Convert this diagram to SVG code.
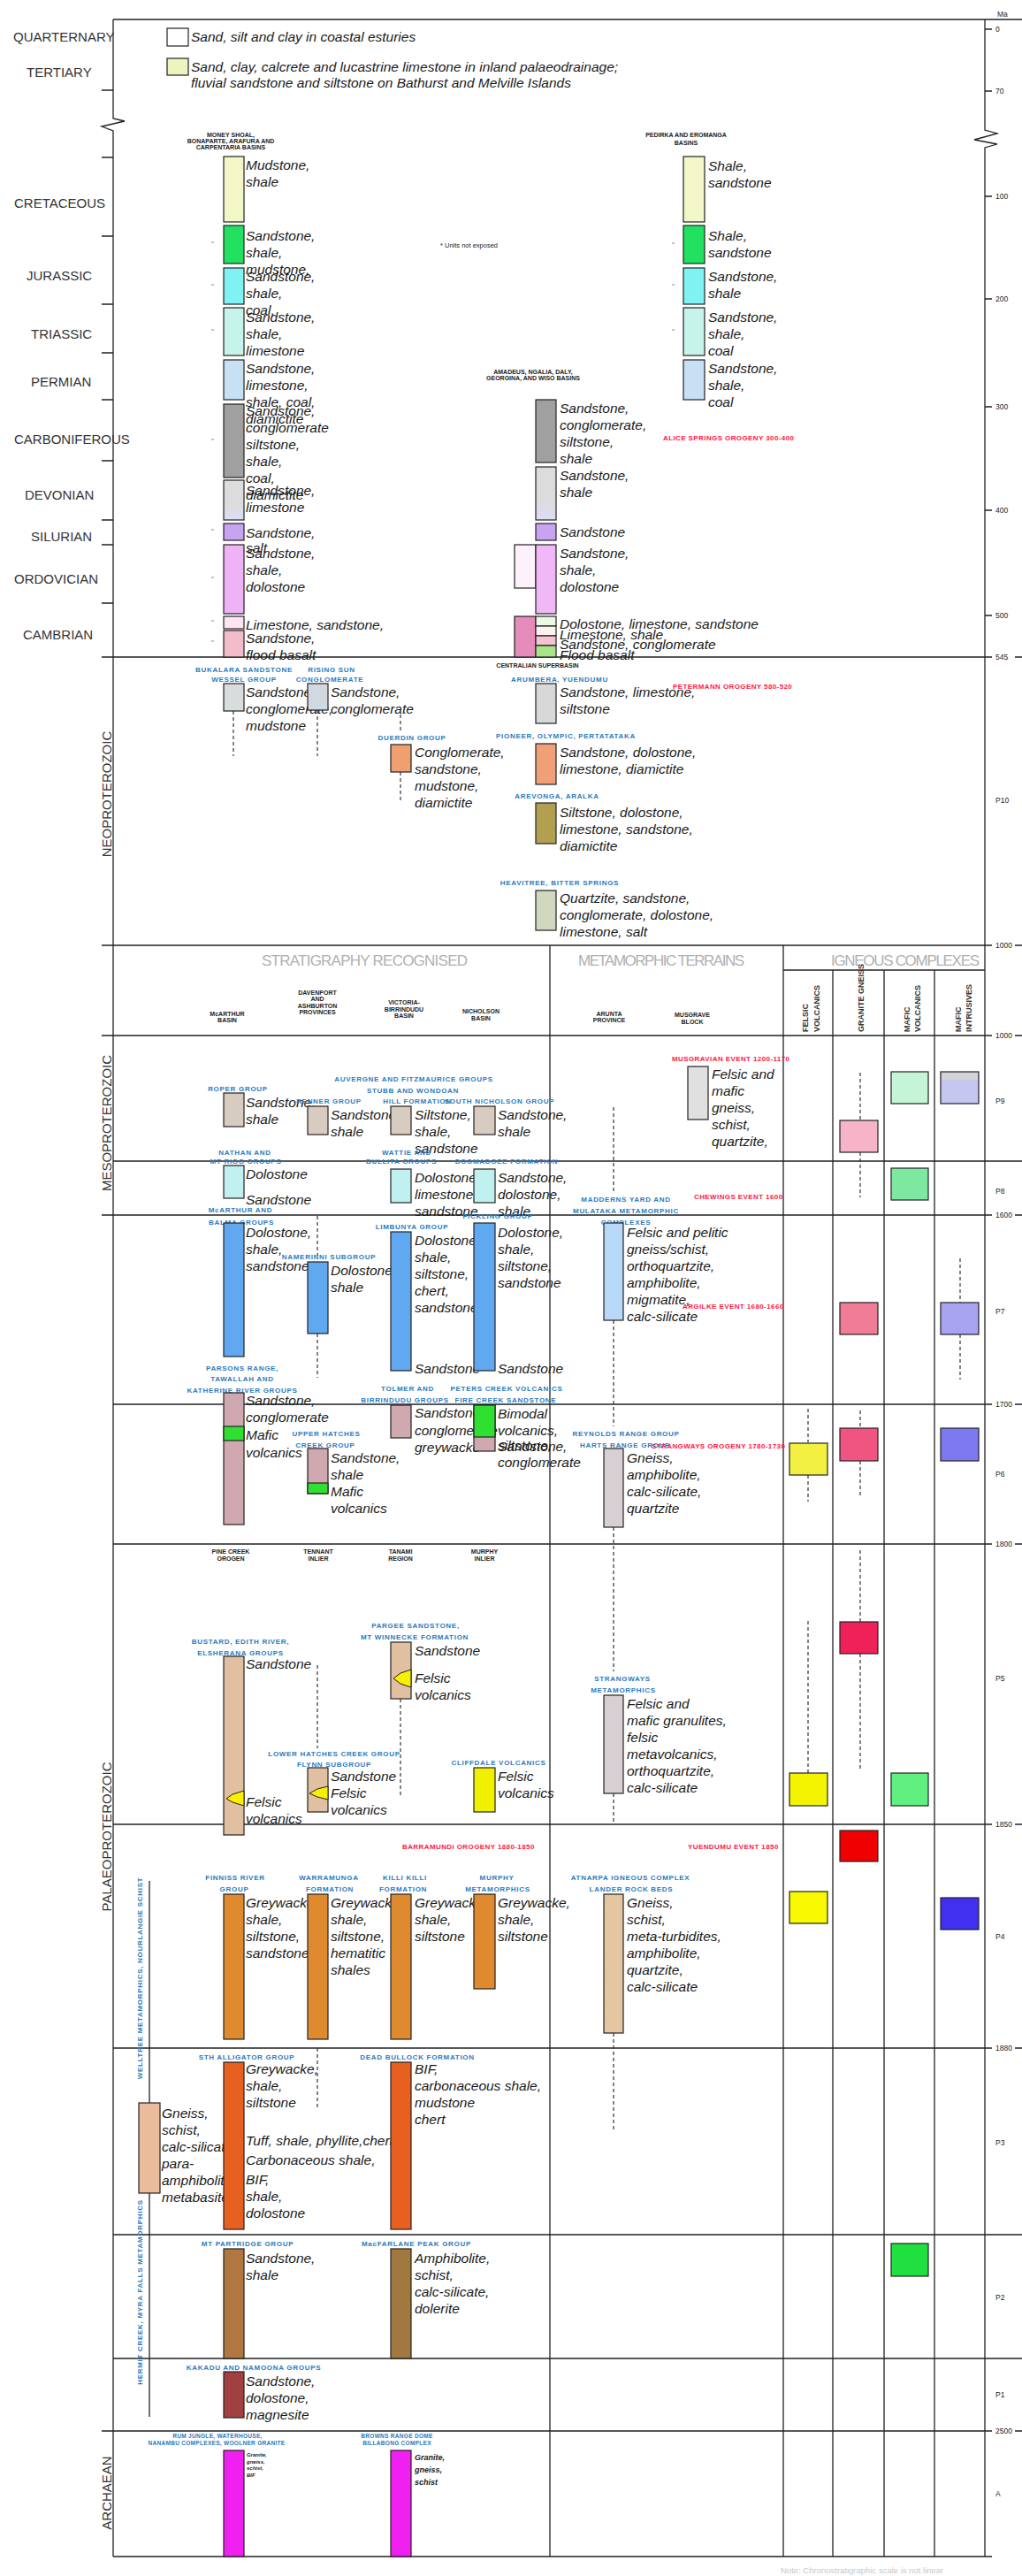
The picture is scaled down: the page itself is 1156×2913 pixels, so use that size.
<svg xmlns="http://www.w3.org/2000/svg" width="1156" height="2913" viewBox="0 0 1156 2913">
<style>
text{font-family:"Liberation Sans",Arial,sans-serif}
.per{font-size:15px;fill:#333}
.era{font-size:15px;fill:#333;text-anchor:middle}
.d{font-size:15.5px;font-style:italic;fill:#1a1a1a}
.bl{font-size:8px;font-weight:bold;fill:#2b7bbd;letter-spacing:.7px;text-anchor:middle}
.blv{font-size:8px;font-weight:bold;fill:#2b7bbd;letter-spacing:.7px;text-anchor:middle}
.rd{font-size:8px;font-weight:bold;fill:#ff1744;letter-spacing:.4px}
.hd{font-size:7px;font-weight:bold;fill:#222;text-anchor:middle}
.tk{font-size:8.5px;fill:#222}
.big{font-size:17px;fill:#b0b0b0}
.ig{font-size:9px;font-weight:bold;fill:#333}
.ln{stroke:#222;stroke-width:1.3;fill:none}
.bx{stroke:#222;stroke-width:1.2}
.ds{stroke:#333;stroke-width:1.2;stroke-dasharray:4 3;fill:none}
.wd{fill:#f8f000;stroke:#222;stroke-width:1}
.mk{stroke:#c07080;stroke-width:1}
</style>
<defs>
<pattern id="hatch" width="3" height="3" patternUnits="userSpaceOnUse">
<rect width="3" height="3" fill="#f0c2a4"/>
<path d="M0,0 L3,3" stroke="#d8a080" stroke-width="0.6"/>
</pattern>
<pattern id="hatch2" width="3" height="3" patternUnits="userSpaceOnUse">
<rect width="3" height="3" fill="#e8cca4"/>
<path d="M0,0 L3,3" stroke="#d0b090" stroke-width="0.6"/>
</pattern>
<pattern id="hatch3" width="3" height="3" patternUnits="userSpaceOnUse">
<rect width="3" height="3" fill="#dcd4d8"/>
<path d="M0,0 L3,3" stroke="#c4bcc0" stroke-width="0.6"/>
</pattern>
<linearGradient id="dev" x1="0" y1="0" x2="0" y2="1">
<stop offset="0.6" stop-color="#dcdcdc"/><stop offset="1" stop-color="#dcdcf6"/>
</linearGradient>
</defs>
<rect width="1156" height="2913" fill="#fff"/>

<g id="frame">
<path class="ln" d="M128,22 H1156"/>
<path class="ln" d="M128,22 V134 L141,137 L115,143 L128,148 V2891"/>
<path class="ln" d="M1114,22 V147 L1128,151 L1102,158 L1128,163 L1114,167 V2891"/>
<path class="ln" d="M115,743 H1122 M1148,743 H1156 M115,1069 H1122 M1148,1069 H1156 M115,1171 H1122 M1148,1171 H1156 M128,1313 H1156 M115,1374 H1122 M1148,1374 H1156 M128,1588 H1122 M1148,1588 H1156 M128,1746 H1122 M1148,1746 H1156 M128,2063 H1122 M1148,2063 H1156 M128,2316 H1122 M1148,2316 H1156 M128,2527 H1156 M128,2667 H1156 M115,2749 H1122 M1148,2749 H1156 M128,2891 H1122"/>
<path class="ln" d="M886,1097 H1114 M622,1069 V2891 M886,1069 V2891 M942,1097 V2891 M1000,1097 V2891 M1057,1097 V2891"/>
<path class="ln" d="M115,102 H128 M115,178 H128 M115,267 H128 M115,344 H128 M115,399 H128 M115,452 H128 M115,521 H128 M115,588 H128 M115,616 H128 M115,682 H128"/>
<path class="ln" d="M1114,33 H1122 M1114,103 H1122 M1114,222 H1122 M1114,338 H1122 M1114,460 H1122 M1114,577 H1122 M1114,696 H1122"/>
<path class="mk" d="M239,274 h3 M239,322 h3 M239,373 h3 M239,497 h3 M239,599 h3 M239,653 h3 M239,702 h3 M239,725 h3 M760,275 h3 M760,322 h3 M760,373 h3"/>
</g>

<g id="time-scale">
<text class="tk" x="1128" y="19">Ma</text>
<text class="tk" x="1126" y="36">0</text>
<text class="tk" x="1126" y="106">70</text>
<text class="tk" x="1126" y="225">100</text>
<text class="tk" x="1126" y="341">200</text>
<text class="tk" x="1126" y="463">300</text>
<text class="tk" x="1126" y="580">400</text>
<text class="tk" x="1126" y="699">500</text>
<text class="tk" x="1126" y="746">545</text>
<text class="tk" x="1126" y="908">P10</text>
<text class="tk" x="1126" y="1072">1000</text>
<text class="tk" x="1126" y="1174">1000</text>
<text class="tk" x="1126" y="1248">P9</text>
<text class="tk" x="1126" y="1350">P8</text>
<text class="tk" x="1126" y="1377">1600</text>
<text class="tk" x="1126" y="1486">P7</text>
<text class="tk" x="1126" y="1591">1700</text>
<text class="tk" x="1126" y="1670">P6</text>
<text class="tk" x="1126" y="1749">1800</text>
<text class="tk" x="1126" y="1901">P5</text>
<text class="tk" x="1126" y="2066">1850</text>
<text class="tk" x="1126" y="2193">P4</text>
<text class="tk" x="1126" y="2319">1880</text>
<text class="tk" x="1126" y="2426">P3</text>
<text class="tk" x="1126" y="2601">P2</text>
<text class="tk" x="1126" y="2711">P1</text>
<text class="tk" x="1126" y="2752">2500</text>
<text class="tk" x="1126" y="2823">A</text>
</g>

<g id="period-labels">
<text class="per" x="15" y="47">QUARTERNARY</text>
<text class="per" x="30" y="87">TERTIARY</text>
<text class="per" x="16" y="235">CRETACEOUS</text>
<text class="per" x="30" y="317">JURASSIC</text>
<text class="per" x="35" y="383">TRIASSIC</text>
<text class="per" x="35" y="437">PERMIAN</text>
<text class="per" x="16" y="502">CARBONIFEROUS</text>
<text class="per" x="28" y="565">DEVONIAN</text>
<text class="per" x="35" y="612">SILURIAN</text>
<text class="per" x="16" y="660">ORDOVICIAN</text>
<text class="per" x="26" y="723">CAMBRIAN</text>
<text class="era" transform="translate(126,898) rotate(-90)">NEOPROTEROZOIC</text>
<text class="era" transform="translate(126,1270) rotate(-90)">MESOPROTEROZOIC</text>
<text class="era" transform="translate(126,2077) rotate(-90)">PALAEOPROTEROZOIC</text>
<text class="era" transform="translate(126,2819) rotate(-90)">ARCHAEAN</text>
</g>

<g id="legend">
<rect class="bx" x="189" y="32" width="24" height="20" fill="#fff"/>
<text class="d" x="216" y="47">Sand, silt and clay in coastal esturies</text>
<rect class="bx" x="189" y="66" width="24" height="19" fill="#eef3c0"/>
<text class="d" x="216" y="81">Sand, clay, calcrete and lucastrine limestone in inland palaeodrainage;</text>
<text class="d" x="216" y="99">fluvial sandstone and siltstone on Bathurst and Melville Islands</text>
</g>

<g id="headers">
<text class="hd" x="261" y="155">MONEY SHOAL,</text>
<text class="hd" x="261" y="162">BONAPARTE, ARAFURA AND</text>
<text class="hd" x="261" y="169">CARPENTARIA BASINS</text>
<text class="hd" x="776" y="155">PEDIRKA AND EROMANGA</text>
<text class="hd" x="776" y="164">BASINS</text>
<text class="hd" x="603" y="423">AMADEUS, NGALIA, DALY,</text>
<text class="hd" x="603" y="430">GEORGINA, AND WISO BASINS</text>
<text x="498" y="280" font-size="7.5" fill="#222">* Units not exposed</text>
<text class="hd" x="608" y="755">CENTRALIAN SUPERBASIN</text>
<text class="big" x="296" y="1092" textLength="233" lengthAdjust="spacing">STRATIGRAPHY  RECOGNISED</text>
<text class="big" x="654" y="1092" textLength="188" lengthAdjust="spacing">METAMORPHIC TERRAINS</text>
<text class="big" x="940" y="1092" textLength="168" lengthAdjust="spacing">IGNEOUS COMPLEXES</text>
<text class="hd" x="257" y="1149">McARTHUR</text><text class="hd" x="257" y="1156">BASIN</text>
<text class="hd" x="359" y="1125">DAVENPORT</text><text class="hd" x="359" y="1132">AND</text><text class="hd" x="359" y="1140">ASHBURTON</text><text class="hd" x="359" y="1147">PROVINCES</text>
<text class="hd" x="457" y="1136">VICTORIA-</text><text class="hd" x="457" y="1144">BIRRINDUDU</text><text class="hd" x="457" y="1151">BASIN</text>
<text class="hd" x="544" y="1146">NICHOLSON</text><text class="hd" x="544" y="1154">BASIN</text>
<text class="hd" x="689" y="1149">ARUNTA</text><text class="hd" x="689" y="1156">PROVINCE</text>
<text class="hd" x="783" y="1150">MUSGRAVE</text><text class="hd" x="783" y="1158">BLOCK</text>
<text class="ig" transform="translate(914,1167) rotate(-90)">FELSIC</text>
<text class="ig" transform="translate(927,1167) rotate(-90)">VOLCANICS</text>
<text class="ig" transform="translate(977,1167) rotate(-90)">GRANITE GNEISS</text>
<text class="ig" transform="translate(1029,1167) rotate(-90)">MAFIC</text>
<text class="ig" transform="translate(1041,1167) rotate(-90)">VOLCANICS</text>
<text class="ig" transform="translate(1087,1167) rotate(-90)">MAFIC</text>
<text class="ig" transform="translate(1099,1167) rotate(-90)">INTRUSIVES</text>
<text class="hd" x="261" y="1757">PINE CREEK</text><text class="hd" x="261" y="1765">OROGEN</text>
<text class="hd" x="360" y="1757">TENNANT</text><text class="hd" x="360" y="1765">INLIER</text>
<text class="hd" x="453" y="1757">TANAMI</text><text class="hd" x="453" y="1765">REGION</text>
<text class="hd" x="548" y="1757">MURPHY</text><text class="hd" x="548" y="1765">INLIER</text>
<text x="883" y="2910" font-size="9.5" fill="#c8c8c8">Note: Chronostratigraphic scale is not linear</text>
</g>

<g id="events">
<text class="rd" x="750" y="498">ALICE SPRINGS OROGENY 300-400</text>
<text class="rd" x="761" y="779">PETERMANN OROGENY 580-520</text>
<text class="rd" x="760" y="1200">MUSGRAVIAN EVENT 1200-1170</text>
<text class="rd" x="785" y="1356">CHEWINGS EVENT 1600</text>
<text class="rd" x="772" y="1480">ARGILKE EVENT 1680-1660</text>
<text class="rd" x="737" y="1638">STRANGWAYS OROGENY 1780-1730</text>
<text class="rd" x="455" y="2091">BARRAMUNDI OROGENY 1880-1850</text>
<text class="rd" x="778" y="2091">YUENDUMU EVENT 1850</text>
</g>

<g id="col-money-shoal">
<g id="n-cretaceous-1"><rect class="bx" x="253" y="177" width="23" height="74" fill="#f3f6c6"/>
<text class="d" x="278" y="192"><tspan x="278">Mudstone,</tspan><tspan x="278" dy="19">shale</tspan></text></g>
<g id="n-jurassic-1a"><rect class="bx" x="253" y="255" width="23" height="43" fill="#22e060"/>
<text class="d" x="278" y="272"><tspan x="278">Sandstone,</tspan><tspan x="278" dy="19">shale,</tspan><tspan x="278" dy="19">mudstone,</tspan></text></g>
<g id="n-jurassic-1b"><rect class="bx" x="253" y="303" width="23" height="41" fill="#7ff2f2"/>
<text class="d" x="278" y="318"><tspan x="278">Sandstone,</tspan><tspan x="278" dy="19">shale,</tspan><tspan x="278" dy="19">coal,</tspan></text></g>
<g id="n-triassic-1"><rect class="bx" x="253" y="348" width="23" height="54" fill="#c6f4ea"/>
<text class="d" x="278" y="364"><tspan x="278">Sandstone,</tspan><tspan x="278" dy="19">shale,</tspan><tspan x="278" dy="19">limestone</tspan></text></g>
<g id="n-permian-1"><rect class="bx" x="253" y="407" width="23" height="45" fill="#c8e0f4"/>
<text class="d" x="278" y="422"><tspan x="278">Sandstone,</tspan><tspan x="278" dy="19">limestone,</tspan><tspan x="278" dy="19">shale, coal,</tspan><tspan x="278" dy="19">diamictite</tspan></text></g>
<g id="n-carb-1"><rect class="bx" x="253" y="457" width="23" height="83" fill="#a0a0a0"/>
<text class="d" x="278" y="470"><tspan x="278">Sandstone,</tspan><tspan x="278" dy="19">conglomerate</tspan><tspan x="278" dy="19">siltstone,</tspan><tspan x="278" dy="19">shale,</tspan><tspan x="278" dy="19">coal,</tspan><tspan x="278" dy="19">diamictite</tspan></text></g>
<g id="n-devonian-1"><rect class="bx" x="253" y="543" width="23" height="45" fill="url(#dev)"/>
<text class="d" x="278" y="560"><tspan x="278">Sandstone,</tspan><tspan x="278" dy="19">limestone</tspan></text></g>
<g id="n-silurian-1"><rect class="bx" x="253" y="592" width="23" height="19" fill="#c8a4f0"/>
<text class="d" x="278" y="608"><tspan x="278">Sandstone,</tspan><tspan x="278" dy="17">salt</tspan></text></g>
<g id="n-ordovician-1"><rect class="bx" x="253" y="616" width="23" height="78" fill="#f0b2f6"/>
<text class="d" x="278" y="631"><tspan x="278">Sandstone,</tspan><tspan x="278" dy="19">shale,</tspan><tspan x="278" dy="19">dolostone</tspan></text></g>
<g id="n-cambrian-1"><rect class="bx" x="253" y="697" width="23" height="14" fill="#fde4f2"/>
<rect class="bx" x="253" y="713" width="23" height="30" fill="#f2bcca"/>
<text class="d" x="278" y="712">Limestone, sandstone,</text>
<text class="d" x="278" y="727">Sandstone,</text>
<text class="d" x="278" y="746">flood basalt</text></g>
</g>

<g id="col-centralian">
<g id="n-carb-2"><rect class="bx" x="606" y="452" width="23" height="71" fill="#a0a0a0"/>
<text class="d" x="633" y="467"><tspan x="633">Sandstone,</tspan><tspan x="633" dy="19">conglomerate,</tspan><tspan x="633" dy="19">siltstone,</tspan><tspan x="633" dy="19">shale</tspan></text></g>
<g id="n-devonian-2"><rect class="bx" x="606" y="528" width="23" height="60" fill="url(#dev)"/>
<text class="d" x="633" y="543"><tspan x="633">Sandstone,</tspan><tspan x="633" dy="19">shale</tspan></text></g>
<g id="n-silurian-2"><rect class="bx" x="606" y="592" width="23" height="19" fill="#c8a4f0"/>
<text class="d" x="633" y="607">Sandstone</text></g>
<g id="n-ordovician-2"><rect class="bx" x="582" y="616" width="24" height="49" fill="#fdf2fb"/>
<rect class="bx" x="606" y="616" width="23" height="78" fill="#f0b8f6"/>
<text class="d" x="633" y="631"><tspan x="633">Sandstone,</tspan><tspan x="633" dy="19">shale,</tspan><tspan x="633" dy="19">dolostone</tspan></text></g>
<g id="n-cambrian-2"><rect class="bx" x="582" y="697" width="24" height="46" fill="#e68cba"/>
<rect class="bx" x="606" y="697" width="23" height="11" fill="#eaf8e4"/>
<rect class="bx" x="606" y="708" width="23" height="11" fill="#fdf0f0"/>
<rect class="bx" x="606" y="719" width="23" height="11" fill="#f4c4d0"/>
<rect class="bx" x="606" y="730" width="23" height="13" fill="#a8e488"/>
<text class="d" x="633" y="711">Dolostone, limestone, sandstone</text>
<text class="d" x="633" y="723">Limestone, shale</text>
<text class="d" x="633" y="734">Sandstone, conglomerate</text>
<text class="d" x="633" y="746">Flood basalt</text></g>
</g>

<g id="col-pedirka">
<g id="n-cretaceous-3"><rect class="bx" x="773" y="177" width="24" height="74" fill="#f3f6c6"/>
<text class="d" x="801" y="193"><tspan x="801">Shale,</tspan><tspan x="801" dy="19">sandstone</tspan></text></g>
<g id="n-jurassic-3a"><rect class="bx" x="773" y="255" width="24" height="43" fill="#22e060"/>
<text class="d" x="801" y="272"><tspan x="801">Shale,</tspan><tspan x="801" dy="19">sandstone</tspan></text></g>
<g id="n-jurassic-3b"><rect class="bx" x="773" y="303" width="24" height="41" fill="#7ff2f2"/>
<text class="d" x="801" y="318"><tspan x="801">Sandstone,</tspan><tspan x="801" dy="19">shale</tspan></text></g>
<g id="n-triassic-3"><rect class="bx" x="773" y="348" width="24" height="54" fill="#c6f4ea"/>
<text class="d" x="801" y="364"><tspan x="801">Sandstone,</tspan><tspan x="801" dy="19">shale,</tspan><tspan x="801" dy="19">coal</tspan></text></g>
<g id="n-permian-3"><rect class="bx" x="773" y="407" width="24" height="45" fill="#c8e0f4"/>
<text class="d" x="801" y="422"><tspan x="801">Sandstone,</tspan><tspan x="801" dy="19">shale,</tspan><tspan x="801" dy="19">coal</tspan></text></g>
</g>

<g id="neoproterozoic">
<g id="n-bukalara"><text class="bl" x="276" y="760">BUKALARA SANDSTONE</text><text class="bl" x="276" y="771">WESSEL GROUP</text>
<rect class="bx" x="253" y="773" width="23" height="31" fill="#d8dcdc"/>
<text class="d" x="278" y="788"><tspan x="278">Sandstone,</tspan><tspan x="278" dy="19">conglomerate,</tspan><tspan x="278" dy="19">mudstone</tspan></text></g>
<g id="n-rising-sun"><text class="bl" x="375" y="760">RISING SUN</text><text class="bl" x="373" y="771">CONGLOMERATE</text>
<rect class="bx" x="348" y="773" width="23" height="30" fill="#d0d8e0"/>
<text class="d" x="374" y="788"><tspan x="374">Sandstone,</tspan><tspan x="374" dy="19">conglomerate</tspan></text></g>
<g id="n-duerdin"><text class="bl" x="466" y="837">DUERDIN GROUP</text>
<rect class="bx" x="442" y="842" width="23" height="31" fill="#f0a070"/>
<text class="d" x="469" y="856"><tspan x="469">Conglomerate,</tspan><tspan x="469" dy="19">sandstone,</tspan><tspan x="469" dy="19">mudstone,</tspan><tspan x="469" dy="19">diamictite</tspan></text></g>
<g id="n-arumbera"><text class="bl" x="633" y="771">ARUMBERA, YUENDUMU</text>
<rect class="bx" x="606" y="773" width="23" height="45" fill="#d8d8d8"/>
<text class="d" x="633" y="788"><tspan x="633">Sandstone, limestone,</tspan><tspan x="633" dy="19">siltstone</tspan></text></g>
<g id="n-pioneer"><text class="bl" x="640" y="835">PIONEER, OLYMPIC, PERTATATAKA</text>
<rect class="bx" x="606" y="841" width="23" height="46" fill="#f0a078"/>
<text class="d" x="633" y="856"><tspan x="633">Sandstone, dolostone,</tspan><tspan x="633" dy="19">limestone, diamictite</tspan></text></g>
<g id="n-arevonga"><text class="bl" x="630" y="903">AREVONGA, ARALKA</text>
<rect class="bx" x="606" y="908" width="23" height="46" fill="#b0a050"/>
<text class="d" x="633" y="924"><tspan x="633">Siltstone, dolostone,</tspan><tspan x="633" dy="19">limestone, sandstone,</tspan><tspan x="633" dy="19">diamictite</tspan></text></g>
<g id="n-heavitree"><text class="bl" x="633" y="1001">HEAVITREE, BITTER SPRINGS</text>
<rect class="bx" x="606" y="1007" width="23" height="45" fill="#d0d8c0"/>
<text class="d" x="633" y="1021"><tspan x="633">Quartzite, sandstone,</tspan><tspan x="633" dy="19">conglomerate, dolostone,</tspan><tspan x="633" dy="19">limestone, salt</tspan></text></g>
</g>

<g id="mesoproterozoic">
<g id="n-roper"><text class="bl" x="269" y="1234">ROPER GROUP</text>
<rect class="bx" x="253" y="1236" width="23" height="38" fill="#d8ccc0"/>
<text class="d" x="278" y="1252"><tspan x="278">Sandstone,</tspan><tspan x="278" dy="19">shale</tspan></text></g>
<g id="n-renner"><text class="bl" x="372" y="1248">RENNER GROUP</text>
<rect class="bx" x="348" y="1251" width="23" height="32" fill="#d8ccc0"/>
<text class="d" x="374" y="1266"><tspan x="374">Sandstone,</tspan><tspan x="374" dy="19">shale</tspan></text></g>
<g id="n-auvergne"><text class="bl" x="468" y="1223">AUVERGNE AND FITZMAURICE GROUPS</text>
<text class="bl" x="467" y="1236">STUBB AND WONDOAN</text><text class="bl" x="472" y="1248">HILL FORMATION</text>
<rect class="bx" x="442" y="1251" width="23" height="32" fill="#d8ccc0"/>
<text class="d" x="469" y="1266"><tspan x="469">Siltstone,</tspan><tspan x="469" dy="19">shale,</tspan><tspan x="469" dy="19">sandstone</tspan></text></g>
<g id="n-south-nicholson"><text class="bl" x="565" y="1248">SOUTH NICHOLSON GROUP</text>
<rect class="bx" x="536" y="1251" width="24" height="32" fill="#d8ccc0"/>
<text class="d" x="563" y="1266"><tspan x="563">Sandstone,</tspan><tspan x="563" dy="19">shale</tspan></text></g>
<g id="n-nathan"><text class="bl" x="277" y="1306">NATHAN AND</text><text class="bl" x="278" y="1316">MT RIGG GROUPS</text>
<rect class="bx" x="253" y="1318" width="23" height="37" fill="#c0f0f0"/>
<text class="d" x="278" y="1333">Dolostone</text><text class="d" x="278" y="1362">Sandstone</text></g>
<g id="n-wattie"><text class="bl" x="460" y="1306">WATTIE AND</text><text class="bl" x="454" y="1316">BULLITA GROUPS</text>
<rect class="bx" x="442" y="1322" width="23" height="38" fill="#c0f0f0"/>
<text class="d" x="469" y="1337"><tspan x="469">Dolostone,</tspan><tspan x="469" dy="19">limestone,</tspan><tspan x="469" dy="19">sandstone</tspan></text></g>
<g id="n-doomadgee"><text class="bl" x="573" y="1316">DOOMADGEE FORMATION</text>
<rect class="bx" x="536" y="1322" width="24" height="38" fill="#c0f0f0"/>
<text class="d" x="563" y="1337"><tspan x="563">Sandstone,</tspan><tspan x="563" dy="19">dolostone,</tspan><tspan x="563" dy="19">shale</tspan></text></g>
<g id="n-musgrave"><rect class="bx" x="778" y="1206" width="23" height="60" fill="#e0e0e0"/>
<text class="d" x="805" y="1220"><tspan x="805">Felsic and</tspan><tspan x="805" dy="19">mafic</tspan><tspan x="805" dy="19">gneiss,</tspan><tspan x="805" dy="19">schist,</tspan><tspan x="805" dy="19">quartzite,</tspan></text></g>
<g id="n-ig-meso"><rect class="bx" x="950" y="1267" width="43" height="36" fill="#f7b3c8"/>
<rect class="bx" x="1008" y="1212" width="42" height="36" fill="#c6f4d6"/>
<rect class="bx" x="1064" y="1212" width="43" height="36" fill="#c6c6f2"/>
<rect x="1065" y="1213" width="41" height="8" fill="#d4d4d4"/>
<rect class="bx" x="1008" y="1321" width="42" height="36" fill="#7fe8a0"/></g>
<g id="n-madderns"><text class="bl" x="708" y="1359">MADDERNS YARD AND</text><text class="bl" x="708" y="1372">MULATAKA METAMORPHIC</text><text class="bl" x="708" y="1385">COMPLEXES</text>
<rect class="bx" x="683" y="1383" width="22" height="110" fill="#b8d8f8"/>
<text class="d" x="709" y="1399"><tspan x="709">Felsic and pelitic</tspan><tspan x="709" dy="19">gneiss/schist,</tspan><tspan x="709" dy="19">orthoquartzite,</tspan><tspan x="709" dy="19">amphibolite,</tspan><tspan x="709" dy="19">migmatite,</tspan><tspan x="709" dy="19">calc-silicate</tspan></text></g>
<g id="n-mcarthur"><text class="bl" x="272" y="1371">McARTHUR AND</text><text class="bl" x="273" y="1385">BALMA GROUPS</text>
<rect class="bx" x="253" y="1383" width="23" height="151" fill="#60a8f0"/>
<text class="d" x="278" y="1399"><tspan x="278">Dolostone,</tspan><tspan x="278" dy="19">shale,</tspan><tspan x="278" dy="19">sandstone</tspan></text></g>
<g id="n-namerinni"><text class="bl" x="372" y="1424">NAMERINNI SUBGROUP</text>
<rect class="bx" x="348" y="1427" width="23" height="81" fill="#60a8f0"/>
<text class="d" x="374" y="1442"><tspan x="374">Dolostone,</tspan><tspan x="374" dy="19">shale</tspan></text></g>
<g id="n-limbunya"><text class="bl" x="466" y="1390">LIMBUNYA GROUP</text>
<rect class="bx" x="442" y="1393" width="23" height="157" fill="#60a8f0"/>
<text class="d" x="469" y="1408"><tspan x="469">Dolostone,</tspan><tspan x="469" dy="19">shale,</tspan><tspan x="469" dy="19">siltstone,</tspan><tspan x="469" dy="19">chert,</tspan><tspan x="469" dy="19">sandstone</tspan></text>
<text class="d" x="469" y="1553">Sandstone</text></g>
<g id="n-fickling"><text class="bl" x="563" y="1378">FICKLING GROUP</text>
<rect class="bx" x="536" y="1383" width="24" height="167" fill="#60a8f0"/>
<text class="d" x="563" y="1399"><tspan x="563">Dolostone,</tspan><tspan x="563" dy="19">shale,</tspan><tspan x="563" dy="19">siltstone,</tspan><tspan x="563" dy="19">sandstone</tspan></text>
<text class="d" x="563" y="1553">Sandstone</text></g>
<g id="n-ig-p7"><rect class="bx" x="950" y="1473" width="43" height="36" fill="#f07c98"/>
<rect class="bx" x="1064" y="1473" width="43" height="36" fill="#a8a4f2"/></g>
</g>

<g id="palaeoproterozoic">
<g id="n-parsons"><text class="bl" x="274" y="1550">PARSONS RANGE,</text><text class="bl" x="274" y="1562">TAWALLAH AND</text><text class="bl" x="274" y="1575">KATHERINE RIVER GROUPS</text>
<rect class="bx" x="253" y="1575" width="23" height="149" fill="#d0a8b0"/>
<rect class="bx" x="253" y="1613" width="23" height="16" fill="#30e030"/>
<text class="d" x="278" y="1589"><tspan x="278">Sandstone,</tspan><tspan x="278" dy="19">conglomerate</tspan><tspan x="278" dy="20">Mafic</tspan><tspan x="278" dy="20">volcanics</tspan></text></g>
<g id="n-upper-hatches"><text class="bl" x="369" y="1624">UPPER HATCHES</text><text class="bl" x="368" y="1637">CREEK GROUP</text>
<rect class="bx" x="348" y="1638" width="23" height="51" fill="#d0a8b0"/>
<rect class="bx" x="348" y="1677" width="23" height="12" fill="#30e030"/>
<text class="d" x="374" y="1654"><tspan x="374">Sandstone,</tspan><tspan x="374" dy="19">shale</tspan><tspan x="374" dy="19">Mafic</tspan><tspan x="374" dy="19">volcanics</tspan></text></g>
<g id="n-tolmer"><text class="bl" x="461" y="1573">TOLMER AND</text><text class="bl" x="458" y="1586">BIRRINDUDU GROUPS</text>
<rect class="bx" x="442" y="1589" width="23" height="37" fill="#d0a8b0"/>
<text class="d" x="469" y="1603"><tspan x="469">Sandstone,</tspan><tspan x="469" dy="20">conglomerate</tspan><tspan x="469" dy="19">greywacke</tspan></text></g>
<g id="n-peters-creek"><text class="bl" x="573" y="1573">PETERS CREEK VOLCANICS</text><text class="bl" x="572" y="1586">FIRE CREEK SANDSTONE</text>
<rect class="bx" x="536" y="1589" width="24" height="52" fill="#d0a8b0"/>
<rect class="bx" x="536" y="1589" width="24" height="36" fill="#30e030"/>
<text class="d" x="563" y="1604"><tspan x="563">Bimodal</tspan><tspan x="563" dy="19">volcanics,</tspan><tspan x="563" dy="17">siltstone,</tspan><tspan x="563" dy="19">conglomerate</tspan></text>
<text class="d" x="563" y="1641">Sandstone,</text></g>
<g id="n-reynolds"><text class="bl" x="708" y="1624">REYNOLDS RANGE GROUP</text><text class="bl" x="707" y="1637">HARTS RANGE GROUP</text>
<rect class="bx" x="683" y="1638" width="22" height="89" fill="url(#hatch3)"/>
<text class="d" x="709" y="1654"><tspan x="709">Gneiss,</tspan><tspan x="709" dy="19">amphibolite,</tspan><tspan x="709" dy="19">calc-silicate,</tspan><tspan x="709" dy="19">quartzite</tspan></text></g>
<g id="n-ig-p6"><rect class="bx" x="893" y="1632" width="43" height="36" fill="#f2f040"/>
<rect class="bx" x="950" y="1615" width="43" height="37" fill="#f05480"/>
<rect class="bx" x="1064" y="1615" width="43" height="37" fill="#7c78f0"/></g>
<g id="n-bustard"><text class="bl" x="272" y="1859">BUSTARD, EDITH RIVER,</text><text class="bl" x="272" y="1872">ELSHERANA GROUPS</text>
<rect class="bx" x="253" y="1873" width="23" height="202" fill="#e0c0a0"/>
<polygon class="wd" points="276,2025 263,2029 256,2034 263,2038 276,2042"/>
<text class="d" x="278" y="1887">Sandstone</text>
<text class="d" x="278" y="2043"><tspan x="278">Felsic</tspan><tspan x="278" dy="19">volcanics</tspan></text></g>
<g id="n-pargee"><text class="bl" x="470" y="1841">PARGEE SANDSTONE,</text><text class="bl" x="469" y="1854">MT WINNECKE FORMATION</text>
<rect class="bx" x="442" y="1857" width="23" height="64" fill="#e0c0a0"/>
<polygon class="wd" points="465,1888 453,1892 445,1898 453,1904 465,1908"/>
<text class="d" x="469" y="1872">Sandstone</text>
<text class="d" x="469" y="1903"><tspan x="469">Felsic</tspan><tspan x="469" dy="19">volcanics</tspan></text></g>
<g id="n-lower-hatches"><text class="bl" x="378" y="1986">LOWER HATCHES CREEK GROUP</text><text class="bl" x="378" y="1998">FLYNN SUBGROUP</text>
<rect class="bx" x="348" y="1999" width="23" height="50" fill="#e0c0a0"/>
<polygon class="wd" points="371,2020 359,2023 350,2028 359,2032 371,2035"/>
<text class="d" x="374" y="2014"><tspan x="374">Sandstone</tspan><tspan x="374" dy="19">Felsic</tspan><tspan x="374" dy="19">volcanics</tspan></text></g>
<g id="n-cliffdale"><text class="bl" x="564" y="1996">CLIFFDALE VOLCANICS</text>
<rect class="bx" x="536" y="1999" width="24" height="50" fill="#f0f000"/>
<text class="d" x="563" y="2014"><tspan x="563">Felsic</tspan><tspan x="563" dy="19">volcanics</tspan></text></g>
<g id="n-strangways"><text class="bl" x="704" y="1901">STRANGWAYS</text><text class="bl" x="705" y="1914">METAMORPHICS</text>
<rect class="bx" x="683" y="1917" width="22" height="111" fill="url(#hatch3)"/>
<text class="d" x="709" y="1932"><tspan x="709">Felsic and</tspan><tspan x="709" dy="19">mafic granulites,</tspan><tspan x="709" dy="19">felsic</tspan><tspan x="709" dy="19">metavolcanics,</tspan><tspan x="709" dy="19">orthoquartzite,</tspan><tspan x="709" dy="19">calc-silicate</tspan></text></g>
<g id="n-ig-p5"><rect class="bx" x="950" y="1834" width="43" height="36" fill="#f02058"/>
<rect class="bx" x="893" y="2005" width="43" height="37" fill="#f4f400"/>
<rect class="bx" x="1008" y="2005" width="42" height="37" fill="#60f080"/></g>
<g id="n-ig-p4"><rect class="bx" x="950" y="2070" width="43" height="35" fill="#f00000"/>
<rect class="bx" x="893" y="2139" width="43" height="36" fill="#f8f800"/>
<rect class="bx" x="1064" y="2146" width="43" height="36" fill="#4030f0"/></g>
<g id="n-welltree"><text class="blv" transform="translate(161,2237) rotate(-90)">WELLTREE METAMORPHICS, NOURLANGIE SCHIST</text>
<rect class="bx" x="157" y="2378" width="24" height="102" fill="url(#hatch)"/>
<text class="d" x="183" y="2395"><tspan x="183">Gneiss,</tspan><tspan x="183" dy="19">schist,</tspan><tspan x="183" dy="19">calc-silicate,</tspan><tspan x="183" dy="19">para-</tspan><tspan x="183" dy="19">amphibolite,</tspan><tspan x="183" dy="19">metabasite</tspan></text></g>
<g id="n-finniss"><text class="bl" x="266" y="2126">FINNISS RIVER</text><text class="bl" x="265" y="2139">GROUP</text>
<rect class="bx" x="253" y="2142" width="23" height="164" fill="#e08a30"/>
<text class="d" x="278" y="2157"><tspan x="278">Greywacke,</tspan><tspan x="278" dy="19">shale,</tspan><tspan x="278" dy="19">siltstone,</tspan><tspan x="278" dy="19">sandstone</tspan></text></g>
<g id="n-warramunga"><text class="bl" x="372" y="2126">WARRAMUNGA</text><text class="bl" x="373" y="2139">FORMATION</text>
<rect class="bx" x="348" y="2142" width="23" height="164" fill="#e08a30"/>
<text class="d" x="374" y="2157"><tspan x="374">Greywacke,</tspan><tspan x="374" dy="19">shale,</tspan><tspan x="374" dy="19">siltstone,</tspan><tspan x="374" dy="19">hematitic</tspan><tspan x="374" dy="19">shales</tspan></text></g>
<g id="n-killi"><text class="bl" x="458" y="2126">KILLI KILLI</text><text class="bl" x="456" y="2139">FORMATION</text>
<rect class="bx" x="442" y="2142" width="23" height="164" fill="#e08a30"/>
<text class="d" x="469" y="2157"><tspan x="469">Greywacke,</tspan><tspan x="469" dy="19">shale,</tspan><tspan x="469" dy="19">siltstone</tspan></text></g>
<g id="n-murphy"><text class="bl" x="562" y="2126">MURPHY</text><text class="bl" x="563" y="2139">METAMORPHICS</text>
<rect class="bx" x="536" y="2142" width="24" height="107" fill="#e08a30"/>
<text class="d" x="563" y="2157"><tspan x="563">Greywacke,</tspan><tspan x="563" dy="19">shale,</tspan><tspan x="563" dy="19">siltstone</tspan></text></g>
<g id="n-atnarpa"><text class="bl" x="713" y="2126">ATNARPA IGNEOUS COMPLEX</text><text class="bl" x="714" y="2139">LANDER ROCK BEDS</text>
<rect class="bx" x="683" y="2142" width="22" height="157" fill="url(#hatch2)"/>
<text class="d" x="709" y="2157"><tspan x="709">Gneiss,</tspan><tspan x="709" dy="19">schist,</tspan><tspan x="709" dy="19">meta-turbidites,</tspan><tspan x="709" dy="19">amphibolite,</tspan><tspan x="709" dy="19">quartzite,</tspan><tspan x="709" dy="19">calc-silicate</tspan></text></g>
<g id="n-sth-alligator"><text class="bl" x="279" y="2329">STH ALLIGATOR GROUP</text>
<rect class="bx" x="253" y="2332" width="23" height="189" fill="#e86020"/>
<text class="d" x="278" y="2345"><tspan x="278">Greywacke,</tspan><tspan x="278" dy="19">shale,</tspan><tspan x="278" dy="19">siltstone</tspan></text>
<text class="d" x="278" y="2426"><tspan x="278">Tuff, shale, phyllite,chert</tspan><tspan x="278" dy="22">Carbonaceous shale,</tspan><tspan x="278" dy="22">BIF,</tspan><tspan x="278" dy="19">shale,</tspan><tspan x="278" dy="19">dolostone</tspan></text></g>
<g id="n-dead-bullock"><text class="bl" x="472" y="2329">DEAD BULLOCK FORMATION</text>
<rect class="bx" x="442" y="2332" width="23" height="189" fill="#e86020"/>
<text class="d" x="469" y="2345"><tspan x="469">BIF,</tspan><tspan x="469" dy="19">carbonaceous shale,</tspan><tspan x="469" dy="19">mudstone</tspan><tspan x="469" dy="19">chert</tspan></text></g>
<g id="n-hermit"><text class="blv" transform="translate(161,2592) rotate(-90)">HERMIT CREEK, MYRA FALLS METAMORPHICS</text></g>
<g id="n-mt-partridge"><text class="bl" x="280" y="2540">MT PARTRIDGE GROUP</text>
<rect class="bx" x="253" y="2543" width="23" height="124" fill="#b07840"/>
<text class="d" x="278" y="2559"><tspan x="278">Sandstone,</tspan><tspan x="278" dy="19">shale</tspan></text></g>
<g id="n-macfarlane"><text class="bl" x="471" y="2540">MacFARLANE PEAK GROUP</text>
<rect class="bx" x="442" y="2543" width="23" height="124" fill="#a07840"/>
<text class="d" x="469" y="2559"><tspan x="469">Amphibolite,</tspan><tspan x="469" dy="19">schist,</tspan><tspan x="469" dy="19">calc-silicate,</tspan><tspan x="469" dy="19">dolerite</tspan></text></g>
<g id="n-ig-p2"><rect class="bx" x="1008" y="2537" width="42" height="37" fill="#20e040"/></g>
<g id="n-kakadu"><text class="bl" x="287" y="2680">KAKADU AND NAMOONA GROUPS</text>
<rect class="bx" x="253" y="2682" width="23" height="52" fill="#a04040"/>
<text class="d" x="278" y="2698"><tspan x="278">Sandstone,</tspan><tspan x="278" dy="19">dolostone,</tspan><tspan x="278" dy="19">magnesite</tspan></text></g>
</g>

<g id="archaean">
<g id="n-rum-jungle"><text class="bl" x="246" y="2757" style="font-size:6.5px;letter-spacing:.3px">RUM JUNGLE, WATERHOUSE,</text><text class="bl" x="245" y="2765" style="font-size:6.5px;letter-spacing:.3px">NANAMBU COMPLEXES, WOOLNER GRANITE</text>
<rect class="bx" x="253" y="2771" width="23" height="120" fill="#f020f0"/>
<text x="279" y="2778" font-size="6" font-weight="bold" font-style="italic" fill="#222"><tspan x="279">Granite,</tspan><tspan x="279" dy="7.5">gneiss,</tspan><tspan x="279" dy="7.5">schist,</tspan><tspan x="279" dy="7.5">BIF</tspan></text></g>
<g id="n-browns-range"><text class="bl" x="449" y="2757" style="font-size:6.5px;letter-spacing:.3px">BROWNS RANGE DOME</text><text class="bl" x="449" y="2765" style="font-size:6.5px;letter-spacing:.3px">BILLABONG COMPLEX</text>
<rect class="bx" x="442" y="2771" width="23" height="120" fill="#f020f0"/>
<text x="469" y="2782" font-size="9" font-weight="bold" font-style="italic" fill="#222"><tspan x="469">Granite,</tspan><tspan x="469" dy="14">gneiss,</tspan><tspan x="469" dy="14">schist</tspan></text></g>
</g>

<g id="connectors">
<path class="ds" d="M264,804 V855 M359,803 V855 M453,808 V827 M453,873 V907"/>
<path class="ds" d="M694,1252 V1347 M973,1213 V1267 M973,1303 V1354"/>
<path class="ds" d="M359,1375 V1420 M359,1508 V1558 M1086,1423 V1473 M1086,1509 V1560 M694,1493 V1613"/>
<path class="ds" d="M914,1593 V1631 M914,1668 V1698 M973,1595 V1615 M973,1652 V1693 M694,1727 V1890"/>
<path class="ds" d="M453,1921 V2032 M359,1883 V1977 M914,1833 V2005 M973,1753 V1834 M973,1870 V2000 M694,2028 V2060"/>
<path class="ds" d="M694,2299 V2410 M359,2316 V2385"/>
<path class="ln" d="M169,2127 V2378 M169,2480 V2733"/>
</g>
</svg>
